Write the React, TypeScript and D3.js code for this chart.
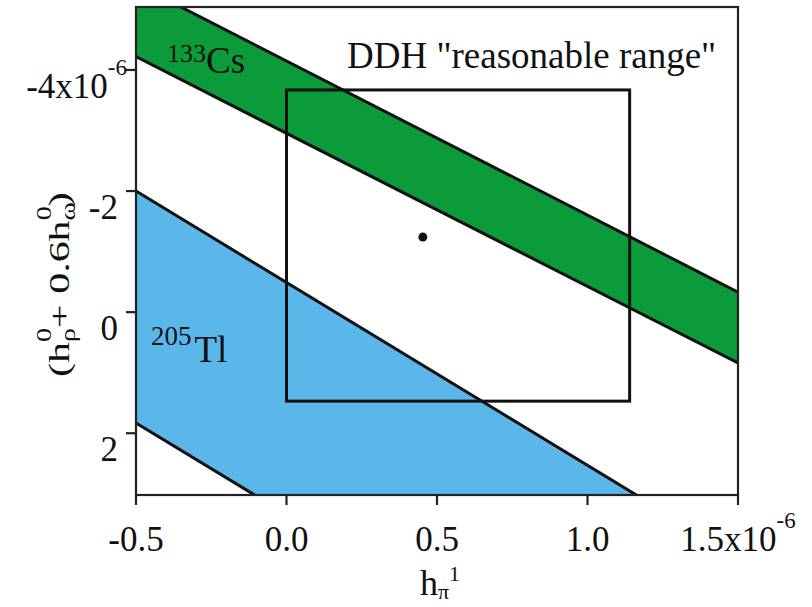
import React from 'react';
import * as d3 from 'd3';

// x values where the band edges are sampled (units of 1e-6)
const edgeX = [-0.5, 1.5];
// 133Cs band edges (value of y at edgeX)
const csEdgeTop = [-5.42, -0.33];
const csEdgeBottom = [-4.22, 0.84];
// 205Tl band edges
const tlEdgeTop = [-2.0, 4.04];
const tlEdgeBottom = [1.83, 7.87];

// DDH "reasonable range" box and its central point
const ddhX = [0.0, 1.14];
const ddhY = [-3.67, 1.47];
const ddhPoint = [0.453, -1.24];

const xTicks = [-0.5, 0.0, 0.5, 1.0, 1.5];
const xTickLabels = ['-0.5', '0.0', '0.5', '1.0', '1.5x10'];
const yTicks = [-4, -2, 0, 2];
const yTickLabels = ['-4x10', '-2', '0', '2'];

const W = 812;
const H = 607;
const font = '"Liberation Serif", "DejaVu Serif", serif';

const App = () => {
    const x = d3.scaleLinear().domain([-0.5, 1.5]).range([136, 738]);
    const y = d3.scaleLinear().domain([-5.04, 3.02]).range([7, 495]);

    const [x0, x1] = x.range();
    const [y0, y1] = y.range();

    const line = d3
        .line<[number, number]>()
        .x(d => x(d[0]))
        .y(d => y(d[1]));

    const band = (top: number[], bottom: number[]) =>
        line([
            [edgeX[0], top[0]],
            [edgeX[1], top[1]],
            [edgeX[1], bottom[1]],
            [edgeX[0], bottom[0]],
        ]) + 'Z';

    const edge = (v: number[]) => line(edgeX.map((e, i) => [e, v[i]] as [number, number])) || '';

    return (
        <svg width={W} height={H} style={{ position: 'absolute', left: 0, top: 0, background: '#fff' }}
            fontFamily={font}>
            <defs>
                <clipPath id="plot">
                    <rect x={x0} y={y0} width={x1 - x0} height={y1 - y0} />
                </clipPath>
            </defs>

            <g clipPath="url(#plot)">
                <path d={band(csEdgeTop, csEdgeBottom)} fill="#0b9b3b" />
                <path d={band(tlEdgeTop, tlEdgeBottom)} fill="#5bb6ea" />
                {[csEdgeTop, csEdgeBottom, tlEdgeTop, tlEdgeBottom].map((v, i) => (
                    <path key={i} d={edge(v)} fill="none" stroke="#111" strokeWidth={3} />
                ))}
            </g>

            {/* DDH box */}
            <rect x={x(ddhX[0])} y={y(ddhY[0])} width={x(ddhX[1]) - x(ddhX[0])}
                height={y(ddhY[1]) - y(ddhY[0])} fill="none" stroke="#111" strokeWidth={3} />
            <circle cx={x(ddhPoint[0])} cy={y(ddhPoint[1])} r={4.5} fill="#111" />

            {/* frame */}
            <rect x={x0} y={y0} width={x1 - x0} height={y1 - y0} fill="none" stroke="#222" strokeWidth={2.2} />

            {/* x axis */}
            {xTicks.map((t, i) => (
                <g key={t}>
                    <line x1={x(t)} x2={x(t)} y1={y1} y2={y1 + 10} stroke="#222" strokeWidth={2.2} />
                    <text x={x(t)} y={551} fontSize={35} textAnchor="middle" fill="#111">
                        {xTickLabels[i]}
                        {i === xTicks.length - 1 && <tspan fontSize={23} dy={-23}>-6</tspan>}
                    </text>
                </g>
            ))}

            {/* y axis */}
            {yTicks.map((t, i) => (
                <g key={t}>
                    <line x1={x0 - 10} x2={x0} y1={y(t)} y2={y(t)} stroke="#222" strokeWidth={2.2} />
                    <text x={i === 0 ? 127 : 118} y={y(t) + 28} fontSize={35} textAnchor="end" fill="#111">
                        {yTickLabels[i]}
                        {i === 0 && <tspan fontSize={23} dy={-23}>-6</tspan>}
                    </text>
                </g>
            ))}

            {/* band labels */}
            <text x={167} y={73} fontSize={37} fill="#111">
                <tspan fontSize={26} dy={-11}>133</tspan>
                <tspan dy={11}>Cs</tspan>
            </text>
            <text x={151} y={362} fontSize={37} fill="#111">
                <tspan fontSize={27} dy={-17}>205</tspan>
                <tspan dx={3} dy={17}>Tl</tspan>
            </text>
            <text x={347} y={68} fontSize={37} fill="#111">DDH "reasonable range"</text>

            {/* axis titles */}
            <text x={420} y={595} fontSize={36} fill="#111">
                h<tspan fontSize={22} dy={4}>π</tspan>
                <tspan fontSize={22} dy={-18}>1</tspan>
            </text>
            <text transform="translate(69,377) rotate(-90) scale(1.4,1)" fontSize={30} fill="#111">
                (h<tspan fontSize={20} dy={6}>ρ</tspan>
                <tspan fontSize={20} dx={-10} dy={-24}>0</tspan>
                <tspan dy={18}>+ 0.6h</tspan>
                <tspan fontSize={20} dy={6}>ω</tspan>
                <tspan fontSize={20} dx={-13} dy={-24}>0</tspan>
                <tspan dy={18}>)</tspan>
            </text>
        </svg>
    );
};

export default App;
